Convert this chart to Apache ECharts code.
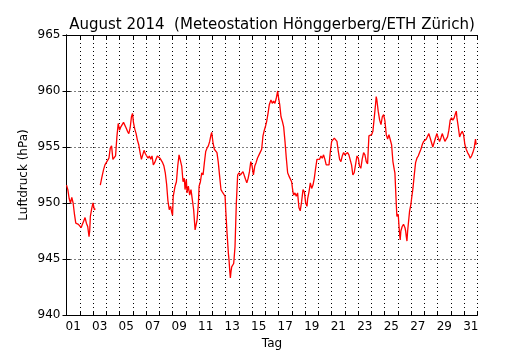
<!DOCTYPE html>
<html>
<head>
<meta charset="utf-8">
<script src="https://cdn.jsdelivr.net/npm/echarts@6/dist/echarts.min.js"></script>
<style>
  html, body { margin: 0; padding: 0; background: #fff; }
  #chart { width: 530px; height: 350px; }
</style>
</head>
<body>
<div id="chart"></div>
<script>
  // Tage seit 1. August 00:00 und Luftdruck in hPa ('-' = Messlücke)
  const zeit = [
    0, 0.1, 0.2, 0.3, 0.4, 0.5, 0.6, 0.7, 0.8, 0.9, 1.0, 1.1, 1.2, 1.3, 1.4, 1.5, 1.6, 1.7, 1.75, 1.8, 1.9, 2.0, 2.1, 2.18,
    2.35,
    2.55, 2.65, 2.75, 2.8, 2.9, 3.0, 3.1, 3.2, 3.3, 3.4, 3.5, 3.6, 3.7, 3.8, 3.9, 4.0, 4.1, 4.2, 4.3, 4.4, 4.5, 4.6, 4.7, 4.8, 4.9, 4.98,
    5.05, 5.15, 5.25, 5.35, 5.45, 5.55, 5.65, 5.75, 5.85, 5.95, 6.05, 6.15, 6.25, 6.35, 6.45, 6.55, 6.65, 6.75, 6.85, 6.95,
    7.05, 7.15, 7.25, 7.35, 7.45, 7.55, 7.65, 7.75, 7.85, 7.95, 8.0, 8.05, 8.19, 8.29, 8.39, 8.49, 8.59, 8.69, 8.79, 8.89, 8.94,
    9.04, 9.09, 9.19, 9.29, 9.39, 9.49, 9.59, 9.7, 9.75, 9.85, 9.95, 10.0, 10.1, 10.2, 10.3, 10.4, 10.5, 10.6, 10.7, 10.8, 10.9, 10.95,
    11.05, 11.15, 11.25, 11.35, 11.45, 11.55, 11.65, 11.75, 11.85, 11.96, 12.01, 12.11, 12.21, 12.26, 12.31, 12.36, 12.41, 12.46, 12.56,
    12.61, 12.71, 12.81, 12.91, 13.01, 13.11, 13.21, 13.31, 13.41, 13.51, 13.6, 13.7, 13.8, 13.9, 14.0, 14.1, 14.2, 14.3, 14.4, 14.5,
    14.6, 14.72, 14.82, 14.92, 15.02, 15.1, 15.2, 15.3, 15.42, 15.52, 15.62, 15.72, 15.83, 15.93, 15.98, 16.08, 16.18, 16.28, 16.38,
    16.48, 16.58, 16.68, 16.78, 16.88, 16.98, 17.08, 17.13, 17.23, 17.33, 17.43, 17.53, 17.63, 17.73, 17.84, 17.94, 18.04, 18.14,
    18.19, 18.29, 18.39, 18.49, 18.59, 18.69, 18.79, 18.89, 18.99, 19.09, 19.19, 19.29, 19.39, 19.49, 19.59, 19.7, 19.8, 19.9,
    20.0, 20.1, 20.2, 20.3, 20.4, 20.5, 20.6, 20.7, 20.8, 20.9, 21.0, 21.1, 21.2, 21.3, 21.4, 21.5, 21.6, 21.7, 21.8, 21.91,
    22.01, 22.1, 22.2, 22.3, 22.41, 22.51, 22.61, 22.71, 22.81, 22.91, 23.01, 23.11, 23.21, 23.31, 23.36, 23.41, 23.51, 23.62,
    23.72, 23.82, 23.92, 24.02, 24.12, 24.22, 24.32, 24.42, 24.52, 24.62, 24.72, 24.77, 24.87, 24.92, 25.02, 25.07, 25.12, 25.17,
    25.22, 25.32, 25.42, 25.53, 25.58, 25.63, 25.68, 25.73, 25.83, 25.88, 25.98, 26.03, 26.13, 26.23, 26.33, 26.43, 26.53, 26.63,
    26.73, 26.83, 26.93, 27.03, 27.13, 27.23, 27.33, 27.43, 27.53, 27.63, 27.73, 27.83, 27.94, 28.04, 28.14, 28.24, 28.34, 28.44,
    28.54, 28.64, 28.74, 28.84, 28.94, 29.04, 29.14, 29.24, 29.34, 29.4, 29.45, 29.55, 29.65, 29.75, 29.85, 29.95, 30.05, 30.15,
    30.25, 30.35, 30.45, 30.55, 30.65, 30.75, 30.85, 30.9
  ];
  const luftdruck = [
    951.6, 951.2, 950.4, 950.0, 950.5, 950.0, 949.0, 948.2, 948.35, 948.1, 948.2, 947.8, 948.1, 948.4, 948.7, 948.2, 947.9, 947.0, 947.5, 948.8, 949.5, 950.0, 949.4, 949.5,
    '-',
    951.6, 952.2, 952.3, 953.0, 953.4, 953.6, 953.7, 954.0, 954.9, 955.1, 953.9, 953.9, 954.2, 955.9, 957.1, 956.5, 956.8, 957.0, 957.2, 957.1, 956.7, 956.4, 956.2, 956.7, 957.7, 958.0,
    957.2, 956.6, 956.2, 955.6, 955.2, 954.5, 953.9, 954.3, 954.7, 954.4, 954.2, 954.0, 954.2, 953.9, 954.2, 953.4, 953.6, 953.9, 954.2, 954.3,
    954.0, 953.9, 953.6, 953.3, 952.7, 951.7, 950.2, 949.4, 949.7, 949.1, 948.9, 950.6, 951.5, 951.9, 953.3, 954.3, 954.2, 953.3, 951.9, 952.2, 951.2,
    952.1, 950.9, 951.5, 950.7, 951.2, 950.3, 949.4, 947.6, 947.5, 948.5, 950.0, 951.5, 951.9, 952.7, 952.5, 953.6, 954.6, 954.9, 955.1, 955.5, 956.1, 956.3,
    955.4, 954.8, 954.8, 954.5, 953.6, 952.4, 951.2, 951.0, 950.9, 950.6, 949.4, 947.3, 945.5, 944.9, 944.0, 943.3, 943.9, 944.3, 944.3,
    944.6, 946.1, 950.0, 952.5, 952.7, 952.5, 952.4, 952.8, 952.7, 952.1, 951.8, 952.2, 952.8, 953.7, 953.3, 952.5, 953.3, 953.6, 954.0, 953.9,
    954.5, 954.8, 956.0, 956.5, 956.9, 957.3, 958.0, 958.8, 959.2, 958.9, 959.1, 958.9, 959.4, 960.0, 959.5, 958.8, 957.7, 957.3, 956.8,
    955.5, 954.0, 952.7, 952.4, 952.5, 951.9, 951.0, 950.7, 950.9, 950.6, 950.9, 949.6, 949.3, 950.1, 951.2, 951.0, 950.0, 949.7,
    950.4, 951.0, 951.8, 951.3, 951.6, 952.2, 953.1, 953.9, 954.0, 953.9, 954.2, 954.0, 954.3, 953.9, 953.4, 953.3, 953.4, 954.6,
    955.5, 955.6, 955.8, 955.9, 955.5, 954.6, 953.9, 953.7, 954.2, 954.5, 954.3, 954.2, 954.5, 954.3, 954.2, 953.4, 952.5, 952.7, 953.4, 954.2,
    954.0, 953.3, 953.1, 953.9, 954.5, 954.3, 953.7, 953.5, 956.0, 955.95, 956.1, 956.4, 957.6, 958.8, 959.5, 959.2, 958.2, 957.4,
    957.0, 957.7, 957.9, 957.3, 956.1, 955.7, 956.1, 956.2, 955.2, 953.7, 953.0, 952.7, 950.0, 948.8, 949.0, 948.1, 947.3, 946.7,
    947.5, 947.9, 948.1, 947.8, 947.5, 947.0, 946.6, 947.5, 948.7, 949.3, 949.9, 950.4, 951.3, 952.5, 953.6, 954.0, 954.2, 954.5,
    954.8, 955.2, 955.5, 955.4, 955.7, 955.8, 956.2, 955.8, 955.4, 955.0, 955.4, 955.8, 956.2, 955.8, 955.5, 955.8, 956.2, 956.1,
    955.5, 955.4, 955.9, 956.5, 957.4, 957.6, 957.4, 957.6, 958.0, 958.2, 957.6, 956.8, 955.9, 956.2, 956.4, 956.1, 955.2, 954.8,
    954.5, 954.3, 954.0, 954.2, 954.5, 954.9, 955.7, 955.2
  ];
  // Tagesbeschriftung unter der Achse
  const tage = [];
  for (let i = 1; i <= 31; i++) tage.push(i < 10 ? '0' + i : String(i));

  const FONT = 'DejaVu Sans';
  const dotted = { color: '#000', width: 1, type: [1, 3] };
  const tickIn = { show: true, inside: true, length: 4, lineStyle: { color: '#000' } };

  const chart = echarts.init(document.getElementById('chart'), null, { renderer: 'canvas' });
  chart.setOption({
    animation: false,
    backgroundColor: '#fff',
    title: {
      text: 'August 2014  (Meteostation Hönggerberg/ETH Zürich)',
      left: 267,
      top: 13,
      textAlign: 'center',
      textStyle: { fontFamily: FONT, fontSize: 15, fontWeight: 'normal', color: '#000' }
    },
    grid: { left: 66.5, right: 52.5, top: 35, bottom: 35, show: false, outerBoundsMode: 'none', containLabel: false },
    xAxis: [
      { // Tagesgrenzen: Gitter und Ticks unten
        type: 'value', min: 0, max: 31, interval: 1, position: 'bottom',
        axisLine: { show: true, lineStyle: { color: '#000', width: 1 } },
        axisTick: tickIn,
        axisLabel: { show: false },
        splitLine: { show: true, lineStyle: dotted }
      },
      { // obere Rahmenlinie
        type: 'value', min: 0, max: 31, interval: 1, position: 'top',
        axisLine: { show: true, onZero: false, lineStyle: { color: '#000', width: 1 } },
        axisTick: tickIn,
        axisLabel: { show: false },
        splitLine: { show: false }
      },
      { // Beschriftung in Tagesmitte
        type: 'category', data: tage, position: 'bottom', boundaryGap: true,
        axisLine: { show: false }, axisTick: { show: false },
        axisLabel: { interval: 1, margin: 6, fontFamily: FONT, fontSize: 12, color: '#000' },
        name: 'Tag', nameLocation: 'middle', nameGap: 23, nameMoveOverlap: false,
        nameTextStyle: { fontFamily: FONT, fontSize: 12, color: '#000' }
      }
    ],
    yAxis: [
      {
        type: 'value', min: 940, max: 965, interval: 5, position: 'left',
        axisLine: { show: true, lineStyle: { color: '#000', width: 1 } },
        axisTick: tickIn,
        axisLabel: { margin: 6, fontFamily: FONT, fontSize: 12, color: '#000' },
        splitLine: { show: true, lineStyle: dotted },
        name: 'Luftdruck (hPa)', nameLocation: 'middle', nameGap: 37, nameMoveOverlap: false,
        nameTextStyle: { fontFamily: FONT, fontSize: 12, color: '#000' }
      },
      {
        type: 'value', min: 940, max: 965, interval: 5, position: 'right',
        axisLine: { show: true, lineStyle: { color: '#000', width: 1 } },
        axisTick: tickIn,
        axisLabel: { show: false },
        splitLine: { show: false }
      }
    ],
    series: [{
      type: 'line',
      xAxisIndex: 0,
      yAxisIndex: 0,
      data: zeit.map((t, i) => [t, luftdruck[i]]),
      showSymbol: false,
      connectNulls: false,
      lineStyle: { color: '#ff0000', width: 1.3 },
      itemStyle: { color: '#ff0000' }
    }]
  });
</script>
</body>
</html>
